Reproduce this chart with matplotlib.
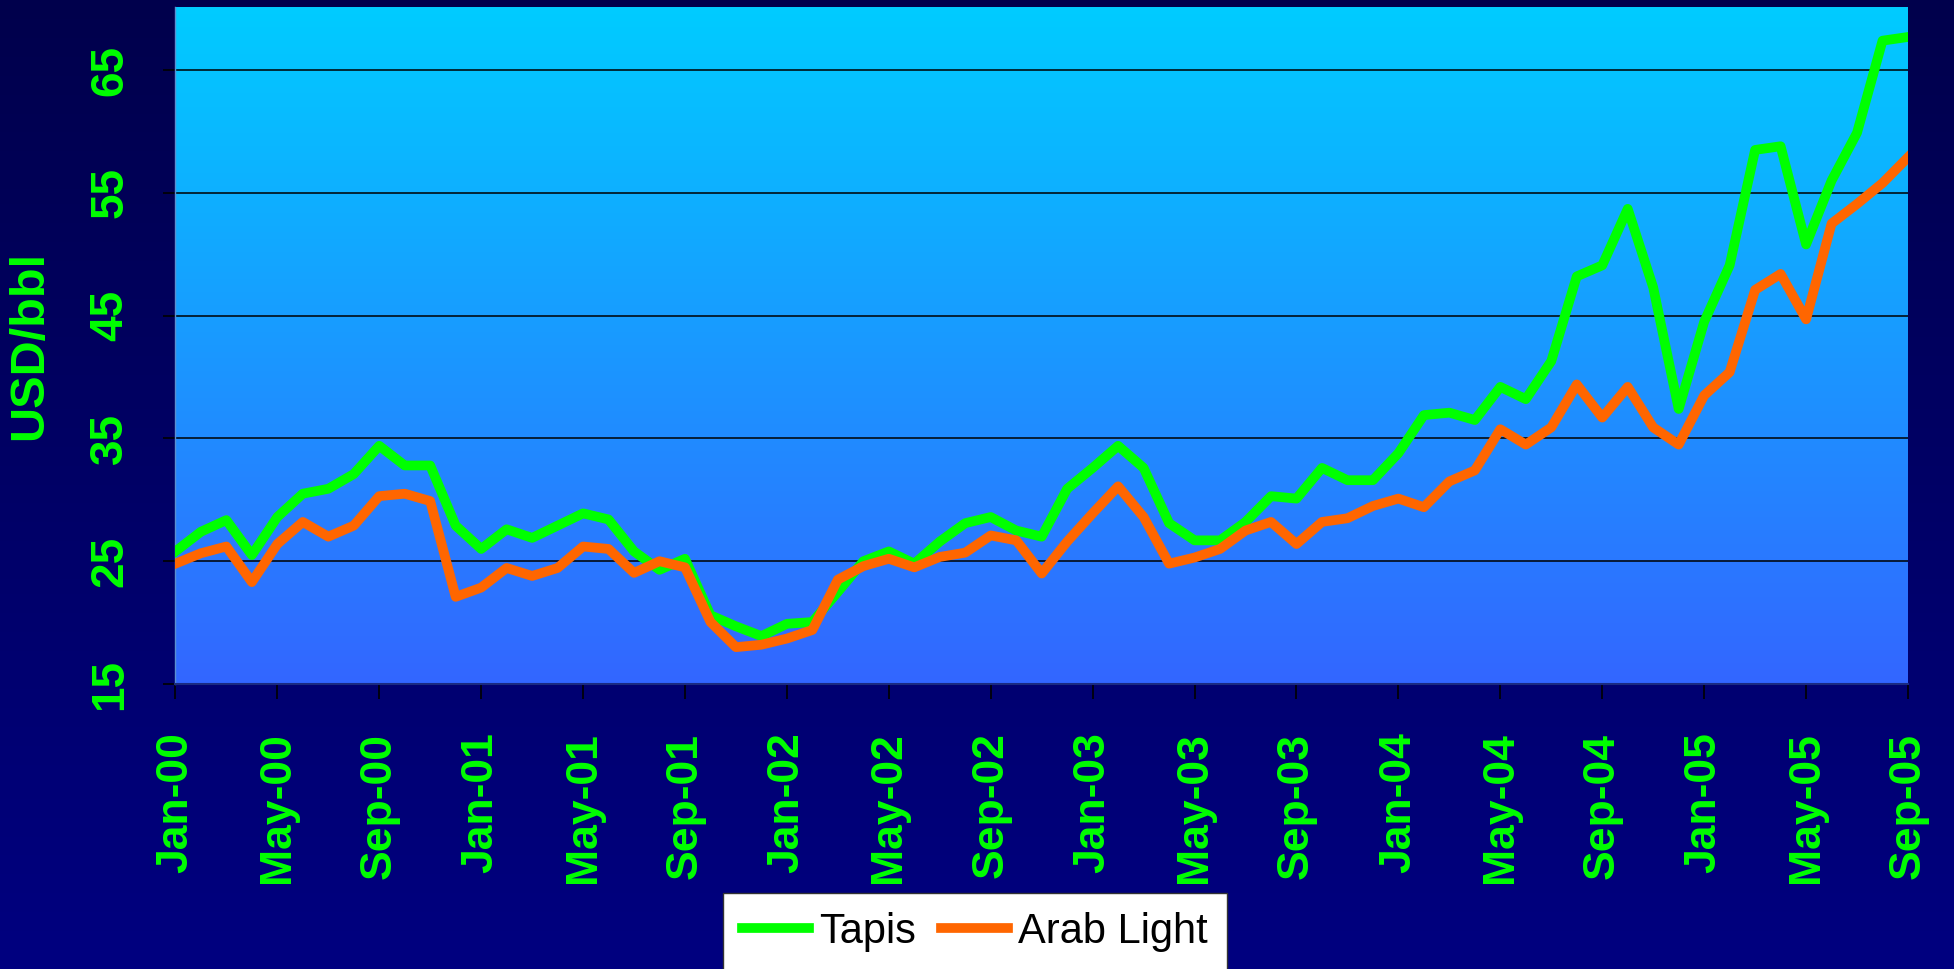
import numpy as np
import matplotlib
matplotlib.use("Agg")
import matplotlib.pyplot as plt
from matplotlib.colors import LinearSegmentedColormap

# Monthly crude prices, Jan-2000 .. Sep-2005 (USD per barrel)
months = ["Jan-00", "May-00", "Sep-00", "Jan-01", "May-01", "Sep-01",
          "Jan-02", "May-02", "Sep-02", "Jan-03", "May-03", "Sep-03",
          "Jan-04", "May-04", "Sep-04", "Jan-05", "May-05", "Sep-05"]

tapis = [25.8, 27.4, 28.35, 25.5, 28.6, 30.5, 30.9, 32.1, 34.4, 32.8,
         32.8, 27.9, 26.0, 27.6, 26.9, 27.9, 28.9, 28.4, 25.8, 24.3,
         25.2, 20.6, 19.7, 18.9, 19.9, 20.05, 22.5, 25.0, 25.8, 24.8,
         26.6, 28.1, 28.6, 27.5, 27.0, 30.9, 32.6, 34.4, 32.6, 28.1,
         26.7, 26.7, 28.2, 30.3, 30.1, 32.6, 31.6, 31.6, 33.8, 36.9,
         37.1, 36.5, 39.2, 38.2, 41.3, 48.2, 49.1, 53.7, 47.3, 37.4,
         44.5, 49.1, 58.5, 58.8, 50.8, 56.0, 59.9, 67.4, 67.7]

arab_light = [24.8, 25.65, 26.2, 23.3, 26.4, 28.2, 27.0, 27.9, 30.3, 30.5,
              29.9, 22.1, 22.85, 24.45, 23.8, 24.45, 26.2, 26.0, 24.05, 25.0,
              24.5, 20.05, 18.0, 18.2, 18.7, 19.4, 23.5, 24.6, 25.2, 24.5,
              25.35, 25.7, 27.1, 26.7, 24.0, 26.6, 28.9, 31.1, 28.6, 24.8,
              25.3, 26.0, 27.5, 28.2, 26.4, 28.2, 28.5, 29.5, 30.1, 29.4,
              31.5, 32.4, 35.75, 34.5, 35.9, 39.4, 36.7, 39.2, 35.9, 34.5,
              38.5, 40.4, 47.1, 48.4, 44.7, 52.5, 54.1, 55.8, 57.9]

yticks = [15, 25, 35, 45, 55, 65]

W, H, DPI = 1954, 969, 100
fig = plt.figure(figsize=(W / DPI, H / DPI), dpi=DPI)

# Figure background: dark navy gradient
bg = fig.add_axes([0, 0, 1, 1], zorder=-10)
bg_cmap = LinearSegmentedColormap.from_list("bg", ["#000080", "#00004C"])
bg.imshow(np.linspace(0, 1, 256).reshape(-1, 1), cmap=bg_cmap, aspect="auto",
          extent=[0, 1, 0, 1], origin="lower")
bg.set_axis_off()

left, right = 175.4 / W, 1908 / W
bottom, top = 1 - 684 / H, 1 - 6.9 / H
ax = fig.add_axes([left, bottom, right - left, top - bottom])

x = np.arange(len(tapis))
ymin, ymax = 15, 70.15
ax.set_xlim(0, len(tapis) - 1)
ax.set_ylim(ymin, ymax)

# Plot area gradient
plot_cmap = LinearSegmentedColormap.from_list("plot", ["#3366FF", "#00CCFF"])
ax.imshow(np.linspace(0, 1, 256).reshape(-1, 1), cmap=plot_cmap, aspect="auto",
          extent=[0, len(tapis) - 1, ymin, ymax], origin="lower", zorder=0)

for yv in yticks[1:]:
    ax.axhline(yv, color="black", lw=1.1, zorder=1)

ax.plot(x, tapis, color="#00FF00", lw=7, label="Tapis", zorder=3,
        solid_joinstyle="round")
ax.plot(x, arab_light, color="#FF6600", lw=7, label="Arab Light", zorder=3,
        solid_joinstyle="round")

label_font = dict(family="Liberation Sans", weight="bold", color="#00FF00")

ax.set_xticks(np.arange(0, len(tapis), 4))
ax.set_xticklabels(months, rotation=90, size=32, **label_font)
ax.set_yticks(yticks)
ax.set_yticklabels([str(v) for v in yticks], rotation=90, va="center",
                   size=33, **label_font)
ax.tick_params(axis="x", direction="out", length=11, width=1.2, color="black", pad=24)
ax.tick_params(axis="y", direction="out", length=9, width=1.2, color="black", pad=22)

ax.set_ylabel("USD/bbl", labelpad=26, size=35, **label_font)

for s in ["top", "right"]:
    ax.spines[s].set_visible(False)
ax.spines["left"].set_color("#5a8fd0")
ax.spines["left"].set_linewidth(1)
ax.spines["bottom"].set_color("#1a2a80")
ax.spines["bottom"].set_linewidth(1.5)

leg = fig.legend(loc="upper center", bbox_to_anchor=(975 / W, 1 - 893 / H),
                 ncol=2, frameon=True, fancybox=False, handlelength=1.6,
                 handletextpad=0.25, columnspacing=0.6, borderpad=0.45,
                 borderaxespad=0, framealpha=1,
                 prop=dict(family="Liberation Sans", size=30))
leg.get_frame().set_facecolor("white")
leg.get_frame().set_edgecolor("#333333")
leg.get_frame().set_linewidth(1)
for t in leg.get_texts():
    t.set_color("black")

fig.savefig("out.png", dpi=DPI)
